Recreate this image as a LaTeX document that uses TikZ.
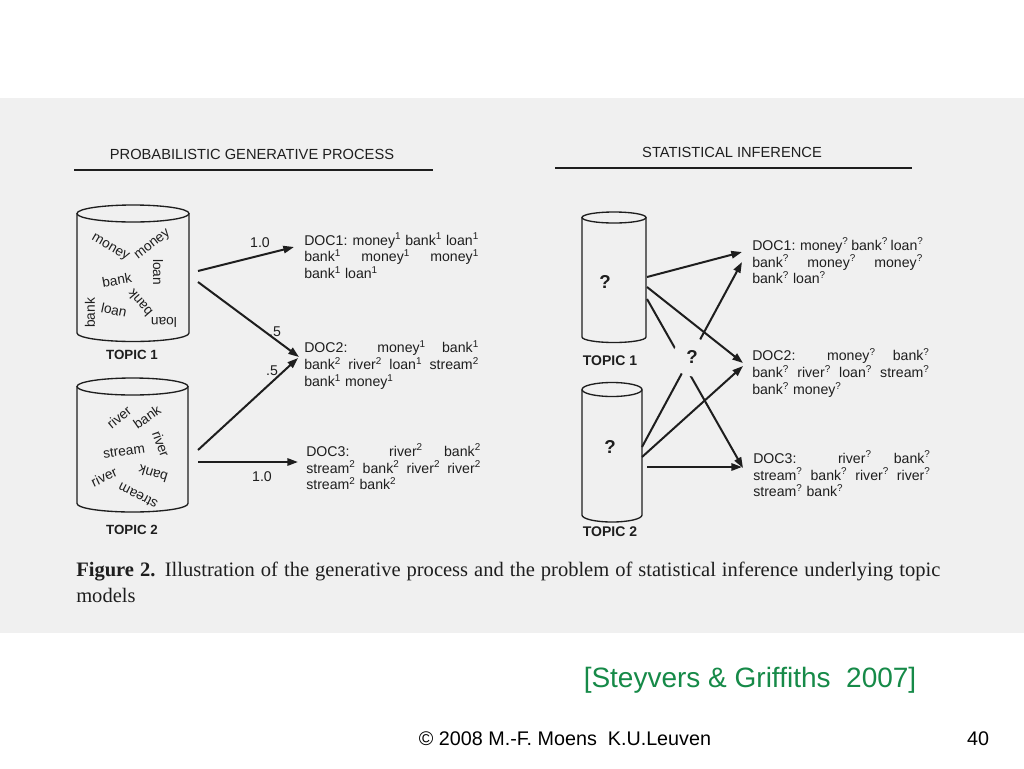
\documentclass[tikz,border=0pt]{standalone}
\usepackage{fontspec}
\setmainfont{Liberation Sans}
\newfontfamily\capfont{Liberation Serif}
\usetikzlibrary{arrows.meta}
\definecolor{bg}{RGB}{240,240,240}
\definecolor{ink}{RGB}{30,30,30}
\definecolor{cite}{RGB}{22,138,72}
\newcommand{\cylmk}[5]{%
  \draw[cylline] (#1,#3) -- (#1,#4) arc[start angle=180,end angle=0,x radius={(#2-#1)/2},y radius=#5] -- (#2,#3);
  \draw[cylline] ({(#1+#2)/2},#3) ellipse[x radius={(#2-#1)/2},y radius=#5];}
\newcommand{\supA}{\textsuperscript{1}}
\newcommand{\supB}{\textsuperscript{2}}
\newcommand{\supQ}{\textsuperscript{?}}
\begin{document}
\begin{tikzpicture}[x=0.75pt,y=-0.75pt,
  cylline/.style={draw=ink,line width=1pt},
  hdr/.style={font=\fontsize{11}{13}\selectfont,text=ink,inner sep=0},
  rulestyle/.style={draw=ink,line width=1.1pt},
  wd/.style={font=\fontsize{10.3}{12}\selectfont,text=ink,inner sep=0},
  topic/.style={font=\bfseries\fontsize{10}{12}\selectfont,text=ink,inner sep=0},
  qbig/.style={font=\bfseries\fontsize{14}{16}\selectfont,text=ink,inner sep=0},
  doc/.style={font=\fontsize{10.6}{12.6}\selectfont,text=ink,inner sep=0,anchor=west,align=left},
  lab/.style={font=\fontsize{10.6}{12}\selectfont,text=ink,inner sep=0},
  arr/.style={draw=ink,line width=1.5pt,-{Triangle[length=8pt,width=5.5pt]}}]
\useasboundingbox (0,0) rectangle (1024,768);
\fill[white] (0,0) rectangle (1024,768);
\fill[bg] (0,98) rectangle (1024,633);
% headers
\node[hdr] (h1) at (252,154) {PROBABILISTIC GENERATIVE PROCESS};
\node[hdr] (h2) at (732,152) {STATISTICAL INFERENCE};
\draw[rulestyle] (74,170) -- (433,170);
\draw[rulestyle] (555,168) -- (912,168);
% left cylinders
\cylmk{77}{189}{213.5}{333}{8.5}
\cylmk{77}{188}{386.5}{503.5}{8.5}
\node[wd,rotate=-30] (w1) at (110,248) {money};
\node[wd,rotate=38] (w2) at (153,245) {money};
\node[wd,rotate=-90] (w3) at (158,272) {loan};
\node[wd,rotate=10] (w4) at (117,280) {bank};
\node[wd,rotate=90] (w5) at (90,313) {bank};
\node[wd,rotate=-12] (w6) at (114,310) {loan};
\node[wd,rotate=131] (w7) at (140,303) {bank};
\node[wd,rotate=180] (w8) at (164,322) {loan};
\node[wd,rotate=40] (v1) at (119,417) {river};
\node[wd,rotate=35] (v2) at (147,417) {bank};
\node[wd,rotate=-70] (v3) at (161,444) {river};
\node[wd,rotate=8] (v4) at (124,451) {stream};
\node[wd,rotate=25] (v5) at (104,477) {river};
\node[wd,rotate=163] (v6) at (153,474) {bank};
\node[wd,rotate=153] (v7) at (138,496) {stream};
\node[topic] (t1) at (132,355) {TOPIC 1};
\node[topic] (t2) at (132,530) {TOPIC 2};
% left docs
\node[doc] (d1) at (304,256) {\makebox[131pt][s]{DOC1: money\supA{} bank\supA{} loan\supA}\\
  \makebox[131pt][s]{bank\supA{} money\supA{} money\supA}\\ bank\supA{} loan\supA};
\node[doc] (d2) at (304,365) {\makebox[131pt][s]{DOC2: money\supA{} bank\supA}\\
  \makebox[131pt][s]{bank\supB{} river\supB{} loan\supA{} stream\supB}\\ bank\supA{} money\supA};
\node[doc] (d3) at (306,467) {\makebox[131pt][s]{DOC3: river\supB{} bank\supB}\\
  \makebox[131pt][s]{stream\supB{} bank\supB{} river\supB{} river\supB}\\ stream\supB{} bank\supB};
% left arrows
\coordinate (a1s) at (198,271); \coordinate (a1e) at (294,247);
\coordinate (a2s) at (198,282); \coordinate (a2e) at (299,357);
\coordinate (a3s) at (198,450); \coordinate (a3e) at (298,358);
\coordinate (a4s) at (198,462); \coordinate (a4e) at (298,462);
\draw[arr] (a1s) -- (a1e);
\draw[arr] (a2s) -- (a2e);
\draw[arr] (a3s) -- (a3e);
\draw[arr] (a4s) -- (a4e);
\node[lab] (l1) at (260,243) {1.0};
\node[lab] (l2) at (275,332) {.5};
\node[lab] (l3) at (272,371) {.5};
\node[lab] (l4) at (262,477) {1.0};
% right cylinders
\cylmk{582}{646}{217.5}{337}{5.5}
\cylmk{582}{642}{389.5}{515}{7}
\node[qbig] (q1) at (605,282) {?};
\node[qbig] (q2) at (610,447) {?};
\node[topic,font=\bfseries\fontsize{10.5}{12}\selectfont] (t3) at (610,361) {TOPIC 1};
\node[topic,font=\bfseries\fontsize{10.5}{12}\selectfont] (t4) at (610,532) {TOPIC 2};
% right docs
\node[doc] (d4) at (752,261) {\makebox[128pt][s]{DOC1: money\supQ{} bank\supQ{} loan\supQ}\\
  \makebox[128pt][s]{bank\supQ{} money\supQ{} money\supQ}\\ bank\supQ{} loan\supQ};
\node[doc] (d5) at (752,373) {\makebox[133pt][s]{DOC2: money\supQ{} bank\supQ}\\
  \makebox[133pt][s]{bank\supQ{} river\supQ{} loan\supQ{} stream\supQ}\\ bank\supQ{} money\supQ};
\node[doc] (d6) at (753,474) {\makebox[133pt][s]{DOC3: river\supQ{} bank\supQ}\\
  \makebox[133pt][s]{stream\supQ{} bank\supQ{} river\supQ{} river\supQ}\\ stream\supQ{} bank\supQ};
% right arrows
\coordinate (b1s) at (647,277); \coordinate (b1e) at (742,252);
\coordinate (b2s) at (647,287); \coordinate (b2e) at (743,363);
\coordinate (b3s) at (647,299); \coordinate (b3e) at (743,468);
\coordinate (b4s) at (642,447); \coordinate (b4e) at (742,262);
\coordinate (b5s) at (642,457); \coordinate (b5e) at (743,366);
\coordinate (b6s) at (647,467); \coordinate (b6e) at (742,467);
\draw[arr] (b1s) -- (b1e);
\draw[arr] (b2s) -- (b2e);
\draw[arr] (b3s) -- (b3e);
\draw[arr] (b4s) -- (b4e);
\draw[arr] (b5s) -- (b5e);
\draw[arr] (b6s) -- (b6e);
\node[circle,fill=bg,minimum size=29pt,inner sep=0,font=\bfseries\fontsize{14}{16}\selectfont,text=ink] (qm) at (692,357) {?};
% caption
\node[anchor=west,inner sep=0,font=\capfont\fontsize{15.4}{18}\selectfont,text=ink] (cap1) at (76,572)
  {\makebox[648pt][s]{\textbf{Figure 2.} Illustration of the generative process and the problem of statistical inference underlying topic}};
\node[anchor=west,inner sep=0,font=\capfont\fontsize{15.4}{18}\selectfont,text=ink] (cap2) at (76,595) {models};
% footer
\node[inner sep=0,font=\fontsize{21}{24}\selectfont,text=cite] (cite) at (750,680) {[Steyvers \& Griffiths\ \ 2007]};
\node[inner sep=0,font=\fontsize{14.8}{17}\selectfont] (foot) at (565,739) {© 2008 M.-F. Moens\ \ K.U.Leuven};
\node[inner sep=0,font=\fontsize{14.8}{17}\selectfont] (pg) at (978,739) {40};
\end{tikzpicture}
\end{document}
